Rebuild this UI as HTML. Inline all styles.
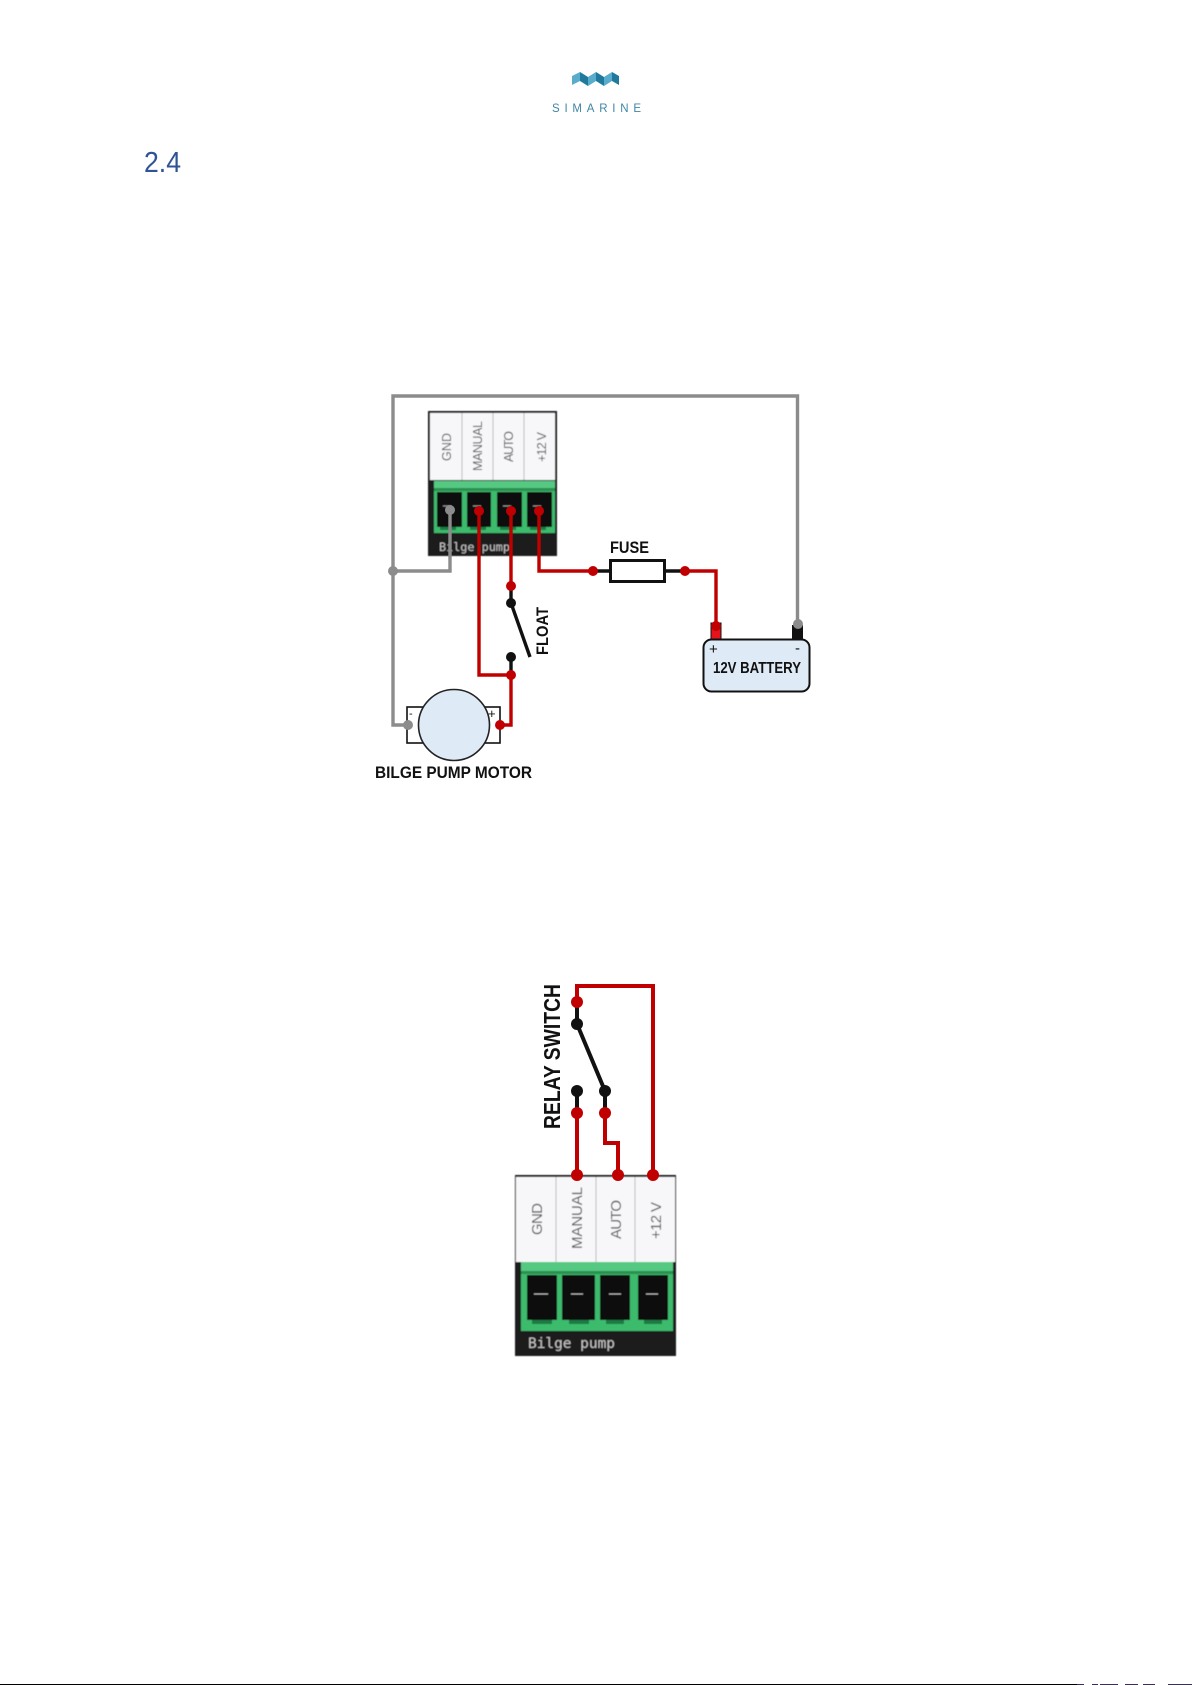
<!DOCTYPE html>
<html>
<head>
<meta charset="utf-8">
<style>
html,body{margin:0;padding:0;background:#fff;width:1192px;height:1685px;overflow:hidden}
svg{display:block}
text{font-family:"Liberation Sans",sans-serif}
.b{font-weight:bold;fill:#111}
.l{fill:#555;font-size:12.5px}
.L{fill:#555;font-size:15px}
.m{font-family:"DejaVu Sans Mono","Liberation Mono",monospace;fill:#c4c4c4}
</style>
</head>
<body>
<svg width="1192" height="1685" viewBox="0 0 1192 1685" xmlns="http://www.w3.org/2000/svg">
<defs>
<filter id="s" x="-5%" y="-5%" width="110%" height="110%"><feGaussianBlur stdDeviation="0.5"/></filter>
</defs>
<rect width="1192" height="1685" fill="#fff"/>

<!-- logo -->
<g>
<polygon points="572,76 580,72 580,81 572,85" fill="#5aaccc"/>
<polygon points="580,72 588,77 588,86 580,81" fill="#1f7a9e"/>
<polygon points="588,77 596,72 596,81 588,86" fill="#5aaccc"/>
<polygon points="596,72 604,77 604,86 596,81" fill="#1f7a9e"/>
<polygon points="604,77 612,72 612,81 604,86" fill="#5aaccc"/>
<polygon points="612,72 619,76 619,85 612,81" fill="#1f7a9e"/>
</g>
<text x="552" y="112" font-size="11.5" fill="#3f86a5" textLength="89" lengthAdjust="spacing">SIMARINE</text>
<text x="144" y="172" font-size="29" fill="#2f5496" textLength="37" lengthAdjust="spacingAndGlyphs">2.4</text>

<!-- DIAGRAM 1 terminal block -->
<g filter="url(#s)">
<rect x="428" y="411" width="129" height="145" fill="#1a1a1a"/>
<rect x="430" y="413" width="125" height="67" fill="#f7f7f9"/>
<path d="M462 413V480M493 413V480M524 413V480" stroke="#bbb" stroke-width="1"/>
<rect x="434" y="481" width="121" height="52" fill="#3dbb6c"/>
<rect x="434" y="481" width="121" height="7" fill="#55c982"/>
<rect x="434" y="488" width="121" height="3" fill="#2a8f50"/>
<rect x="437" y="492" width="25" height="35" fill="#0c0f0d"/>
<rect x="467" y="492" width="24" height="35" fill="#0c0f0d"/>
<rect x="497" y="492" width="25" height="35" fill="#0c0f0d"/>
<rect x="527" y="492" width="25" height="35" fill="#0c0f0d"/>
<path d="M443 506h8M473 506h8M503 506h8M533 506h8" stroke="#999" stroke-width="1"/>
<rect x="440" y="527" width="16" height="3" fill="#1e7a44"/>
<rect x="470" y="527" width="16" height="3" fill="#1e7a44"/>
<rect x="500" y="527" width="16" height="3" fill="#1e7a44"/>
<rect x="530" y="527" width="16" height="3" fill="#1e7a44"/>
<text class="m" x="439" y="551" font-size="11.8" textLength="71">Bilge pump</text>
<text class="l" transform="translate(451,461) rotate(-90)" textLength="28">GND</text>
<text class="l" transform="translate(482,471) rotate(-90)" textLength="50">MANUAL</text>
<text class="l" transform="translate(513,462) rotate(-90)" textLength="31">AUTO</text>
<text class="l" transform="translate(546,462) rotate(-90)" textLength="30">+12 V</text>
</g>

<!-- motor -->
<rect x="407" y="707" width="93" height="36" fill="#fff" stroke="#111" stroke-width="1.6"/>
<text x="409" y="717" font-size="11" fill="#111">-</text>
<text x="488" y="718" font-size="13" fill="#111">+</text>
<circle cx="454" cy="725" r="35.5" fill="#deeaf6" stroke="#222" stroke-width="1.6"/>
<text class="b" x="375" y="778" font-size="17" textLength="157" lengthAdjust="spacingAndGlyphs">BILGE PUMP MOTOR</text>

<!-- battery -->
<rect x="711" y="623" width="10" height="17" fill="#e5131b" stroke="#111" stroke-width="1"/>
<rect x="792" y="625" width="11" height="15" fill="#111"/>
<rect x="703.5" y="639.5" width="106" height="52" rx="8" fill="#deeaf6" stroke="#111" stroke-width="2"/>
<text x="709" y="654" font-size="15" fill="#111">+</text>
<text x="795" y="653" font-size="15" fill="#111">-</text>
<text class="b" x="713" y="673" font-size="16" textLength="88" lengthAdjust="spacingAndGlyphs">12V BATTERY</text>

<!-- gray wires -->
<g fill="none" stroke="#8c8c8c" stroke-width="3.4">
<path d="M408 725H393V396H797.5V624"/>
<path d="M393 571H450V510"/>
</g>
<g fill="#8c8c8c">
<circle cx="393" cy="571" r="5"/>
<circle cx="408" cy="725" r="5"/>
<circle cx="450" cy="510" r="5"/>
<circle cx="798" cy="624" r="5"/>
</g>

<!-- fuse & switch black -->
<g fill="none" stroke="#111" stroke-width="3.4">
<path d="M593 571H685"/>
<rect x="610.5" y="560.5" width="54" height="21" fill="#fff" stroke-width="3"/>
<path d="M511 586V603L530 657"/>
<path d="M511 657V675"/>
</g>
<circle cx="511" cy="603" r="5" fill="#111"/>
<circle cx="511" cy="657" r="5" fill="#111"/>

<!-- red wires -->
<g fill="none" stroke="#c00000" stroke-width="3.4">
<path d="M479 511V675H511"/>
<path d="M511 511V586"/>
<path d="M511 675V725H500"/>
<path d="M539 511V571H593"/>
<path d="M685 571H716V626"/>
</g>
<g fill="#c00000">
<circle cx="479" cy="511" r="5"/>
<circle cx="511" cy="511" r="5"/>
<circle cx="539" cy="511" r="5"/>
<circle cx="511" cy="586" r="5"/>
<circle cx="511" cy="675" r="5"/>
<circle cx="500" cy="725" r="5"/>
<circle cx="593" cy="571" r="5"/>
<circle cx="685" cy="571" r="5"/>
<circle cx="716" cy="626" r="5"/>
</g>
<text class="b" x="610" y="553" font-size="17" textLength="39" lengthAdjust="spacingAndGlyphs">FUSE</text>
<text class="b" transform="translate(548,655) rotate(-90)" font-size="17" textLength="48" lengthAdjust="spacingAndGlyphs">FLOAT</text>

<!-- DIAGRAM 2 terminal block -->
<g filter="url(#s)">
<rect x="515" y="1175" width="161" height="181" fill="#1a1a1a"/>
<rect x="516" y="1177" width="159" height="85" fill="#f7f7f9"/>
<path d="M556 1177V1262M596 1177V1262M635 1177V1262" stroke="#bbb" stroke-width="1"/>
<rect x="521" y="1262" width="152" height="69" fill="#3dbb6c"/>
<rect x="521" y="1262" width="152" height="9" fill="#55c982"/>
<rect x="521" y="1271" width="152" height="3" fill="#2a8f50"/>
<rect x="527" y="1275" width="30" height="45" fill="#0c0f0d"/>
<rect x="562" y="1275" width="33" height="45" fill="#0c0f0d"/>
<rect x="600" y="1275" width="30" height="45" fill="#0c0f0d"/>
<rect x="638" y="1275" width="30" height="45" fill="#0c0f0d"/>
<path d="M534 1294h14M571 1294h12M609 1294h12M646 1294h12" stroke="#bbb" stroke-width="1"/>
<rect x="532" y="1320" width="20" height="4" fill="#1e7a44"/>
<rect x="569" y="1320" width="20" height="4" fill="#1e7a44"/>
<rect x="606" y="1320" width="18" height="4" fill="#1e7a44"/>
<rect x="644" y="1320" width="18" height="4" fill="#1e7a44"/>
<text class="m" x="528" y="1348" font-size="14.5" textLength="87">Bilge pump</text>
<text class="L" transform="translate(542,1235) rotate(-90)" textLength="32">GND</text>
<text class="L" transform="translate(582,1249) rotate(-90)" textLength="62">MANUAL</text>
<text class="L" transform="translate(621,1239) rotate(-90)" textLength="39">AUTO</text>
<text class="L" transform="translate(661,1239) rotate(-90)" textLength="37">+12 V</text>
</g>

<!-- relay -->
<g fill="none" stroke="#111" stroke-width="4">
<path d="M577 1002V1024L605 1091V1113"/>
<path d="M577 1091V1113"/>
</g>
<circle cx="577" cy="1024" r="6" fill="#111"/>
<circle cx="577" cy="1091" r="6" fill="#111"/>
<circle cx="605" cy="1091" r="6" fill="#111"/>
<g fill="none" stroke="#c00000" stroke-width="4">
<path d="M577 1002V986H653V1175"/>
<path d="M577 1113V1175"/>
<path d="M605 1113V1143H618V1175"/>
</g>
<g fill="#c00000">
<circle cx="577" cy="1002" r="6"/>
<circle cx="577" cy="1113" r="6"/>
<circle cx="605" cy="1113" r="6"/>
<circle cx="577" cy="1175" r="6"/>
<circle cx="618" cy="1175" r="6"/>
<circle cx="653" cy="1175" r="6"/>
</g>
<text class="b" transform="translate(560,1129) rotate(-90)" font-size="23" textLength="145" lengthAdjust="spacingAndGlyphs">RELAY SWITCH</text>

<!-- bottom edge -->
<rect x="0" y="1684" width="1077" height="1" fill="#000"/>
<path d="M1077 1684.5h7M1092 1684.5h6M1100 1684.5h18M1125 1684.5h13M1143 1684.5h12M1168 1684.5h24" stroke="#3a3050" stroke-width="1"/>
</svg>
</body>
</html>
